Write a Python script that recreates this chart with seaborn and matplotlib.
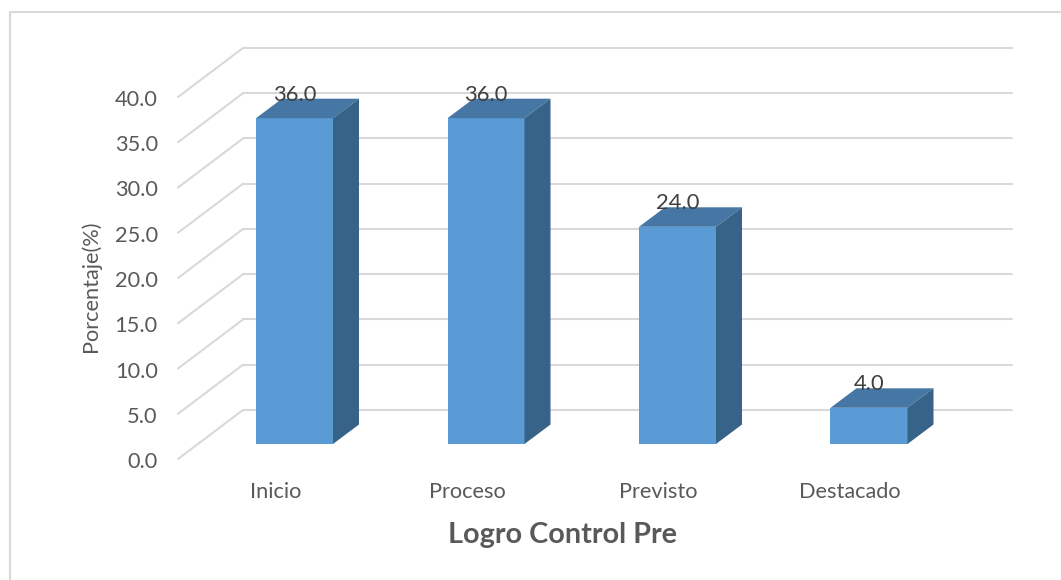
# Bar chart with a fake 3D look, Logro Control Pre
import matplotlib
matplotlib.use("Agg")
import matplotlib.pyplot as plt
from matplotlib.lines import Line2D
from matplotlib.transforms import ScaledTranslation
import pandas as pd
import seaborn as sns

# Data
categorias = ["Inicio", "Proceso", "Previsto", "Destacado"]
porcentajes = [36.0, 36.0, 24.0, 4.0]
ticks_y = [0, 5, 10, 15, 20, 25, 30, 35, 40]

# Colours
azul_frente = "#5B9BD5"
azul_arriba = "#4676A3"
azul_lado = "#376388"
gris_linea = "#D9D9D9"
gris_texto = "#595959"

sns.set_theme(style="white")
plt.rcParams["font.family"] = ["Lato", "DejaVu Sans"]

W, H = 1061, 580
fig = plt.figure(figsize=(W / 100, H / 100), dpi=100)

# Axes placed on the plane of the front of the bars
izq, der, arriba, abajo = 198, 967, 82, 444
ax = fig.add_axes([izq / W, 1 - abajo / H, (der - izq) / W, (abajo - arriba) / H])
px_x = 191.5
px_y = (abajo - arriba) / 40
ax.set_xlim((izq - 294.5) / px_x, (der - 294.5) / px_x)
ax.set_ylim(0, 40)

datos = pd.DataFrame({"Logro": categorias, "Porcentaje": porcentajes})
ancho = 77 / px_x
sns.barplot(data=datos, x="Logro", y="Porcentaje", color=azul_frente, saturation=1,
            width=ancho, linewidth=0, ax=ax, zorder=3)
ax.set_xlim((izq - 294.5) / px_x, (der - 294.5) / px_x)
ax.set_ylim(0, 40)

# Depth of the walls and of the bars, in data units
fondo_x, fondo_y = 45 / px_x, 34 / px_y
frente_x, frente_y = -20 / px_x, -15 / px_y
prof_x, prof_y = 26 / px_x, 19.5 / px_y

# Grid on the back wall plus the diagonals on the left wall
x0, x1 = ax.get_xlim()
for t in ticks_y:
    ax.plot([x0 + fondo_x, x1 + fondo_x], [t + fondo_y, t + fondo_y], color=gris_linea,
            lw=1.5, clip_on=False, zorder=1)
    ax.plot([x0 + frente_x, x0 + fondo_x], [t + frente_y, t + fondo_y], color=gris_linea,
            lw=1.5, clip_on=False, zorder=1)

# Top and side of every bar
for i, v in enumerate(porcentajes):
    a, b = i - ancho / 2, i + ancho / 2
    ax.fill([a, b, b + prof_x, a + prof_x], [v, v, v + prof_y, v + prof_y],
            color=azul_arriba, lw=0, clip_on=False, zorder=3)
    ax.fill([b, b + prof_x, b + prof_x, b], [0, prof_y, v + prof_y, v],
            color=azul_lado, lw=0, clip_on=False, zorder=3)
    ax.annotate(f"{v:.1f}", xy=(i, v), xytext=(0, 17), textcoords="offset points",
                ha="center", va="center", fontsize=15.8, color="#404040", zorder=5)

ax.set_yticks(ticks_y)
ax.set_yticklabels([f"{t:.1f}" for t in ticks_y])
ax.tick_params(axis="both", length=0, labelsize=15.7, labelcolor=gris_texto)
ax.tick_params(axis="y", pad=29)
ax.tick_params(axis="x", pad=27.5)
sns.despine(ax=ax, left=True, bottom=True)

# Tick labels sit on the front edge of the floor
for lab in ax.get_yticklabels():
    lab.set_transform(lab.get_transform() + ScaledTranslation(0, -16 / 100, fig.dpi_scale_trans))
for lab in ax.get_xticklabels():
    lab.set_transform(lab.get_transform() + ScaledTranslation(-19 / 100, 0, fig.dpi_scale_trans))

ax.set_ylabel("Porcentaje(%)", fontsize=15.7, color=gris_texto, va="center")
ax.yaxis.set_label_coords(91 / W, 1 - 286 / H, transform=fig.transFigure)
ax.set_xlabel("Logro Control Pre", fontsize=20.7, fontweight="bold", color=gris_texto, va="center")
ax.xaxis.set_label_coords(562 / W, 1 - 535 / H, transform=fig.transFigure)

# Chart frame, only top and left are visible in the picture
fig.add_artist(Line2D([10 / W, 10 / W, 1], [0, 1 - 12 / H, 1 - 12 / H], color=gris_linea, lw=1.5))

fig.savefig("out.png", dpi=100)
